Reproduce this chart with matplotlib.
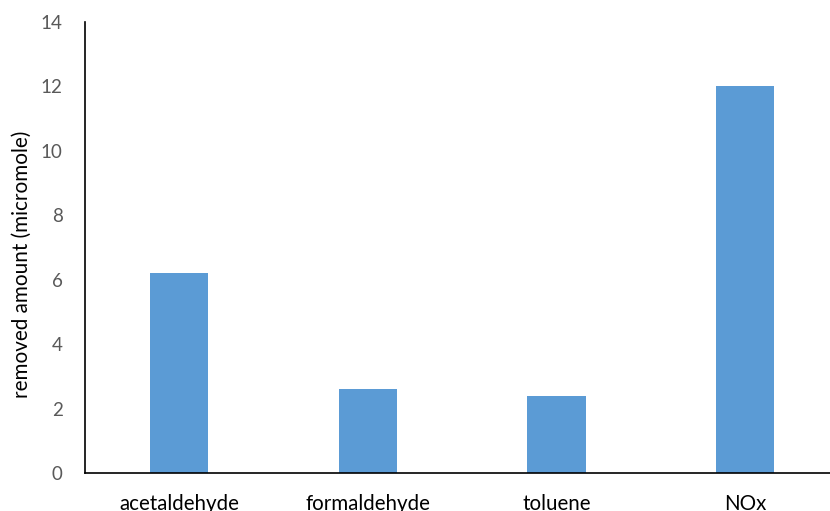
import matplotlib.pyplot as plt

plt.rcParams['font.family'] = ['Lato', 'DejaVu Sans']

compounds = ['acetaldehyde', 'formaldehyde', 'toluene', 'NOx']
removed = [6.2, 2.6, 2.4, 12.0]
y_ticks = [0, 2, 4, 6, 8, 10, 12, 14]

fig = plt.figure(figsize=(8.3, 5.11), dpi=100)
ax = fig.add_axes([0.1024, 0.0744, 0.9086, 0.8826])

x = range(len(compounds))
ax.bar(x, removed, width=0.31, color='#5B9BD5', zorder=2)

ax.set_xlim(-0.5, len(compounds) - 0.5)
ax.set_ylim(0, 14)
ax.set_yticks(y_ticks)
ax.set_yticklabels([str(t) for t in y_ticks], fontsize=13.5, color='#595959')
ax.set_xticks(list(x))
ax.set_xticklabels(compounds, fontsize=14.8, color='black')
ax.tick_params(axis='y', length=0, pad=16)
ax.tick_params(axis='x', length=0, pad=15)

ax.set_ylabel('removed amount (micromole)', fontsize=14.9)
ax.yaxis.set_label_coords(-0.070, 0.463)

for side in ['top', 'right']:
    ax.spines[side].set_visible(False)
for side in ['left', 'bottom']:
    ax.spines[side].set_linewidth(1.2)
    ax.spines[side].set_color('black')

fig.savefig('out.png', dpi=100)
